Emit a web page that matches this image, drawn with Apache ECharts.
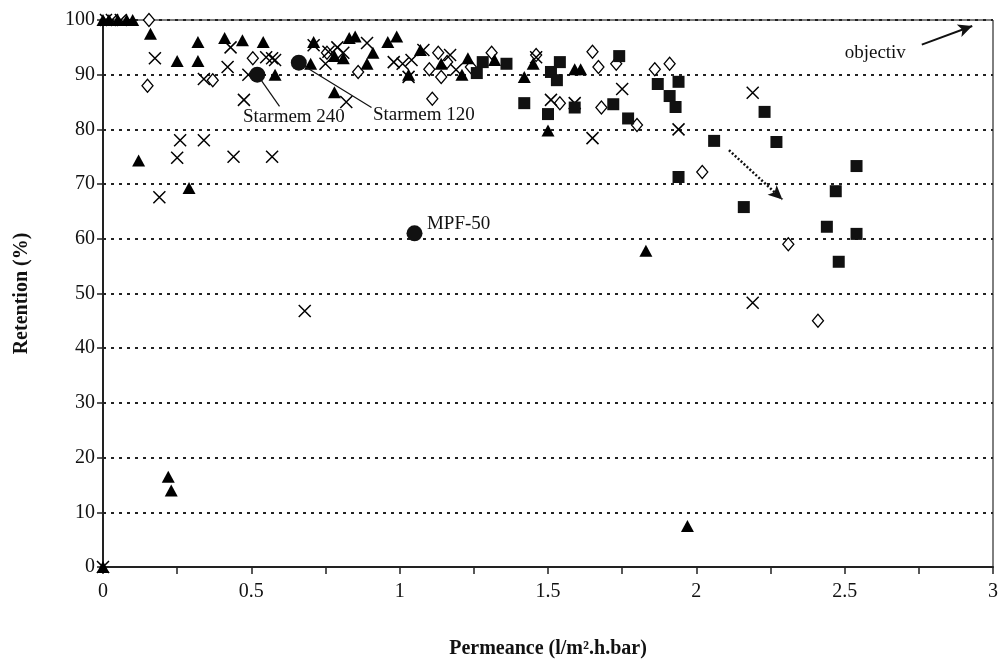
<!DOCTYPE html>
<html><head><meta charset="utf-8">
<script src="https://cdn.jsdelivr.net/npm/echarts@6/dist/echarts.min.js"></script>
<style>html,body{margin:0;padding:0;background:#fff}#c{width:1000px;height:660px}</style>
</head><body><div id="c"></div>
<script>
const xTitle = 'Permeance (l/m².h.bar)';
const yTitle = 'Retention (%)';
const triangles = [[0,100],[0.02,100],[0.05,100],[0.08,100],[0.1,100],
 [0.16,97.5],[0.25,92.5],[0.32,96],[0.32,92.5],[0.41,96.7],[0.47,96.3],[0.54,96],[0.58,90],
 [0.12,74.3],[0.29,69.3],[0.22,16.5],[0.23,14],[0,0],
 [0.71,96],[0.70,92],[0.78,93.4],[0.81,93],[0.83,96.7],[0.85,97],[0.91,94],[0.89,92],[0.96,96],[0.99,97],[0.78,86.8],
 [1.07,94.5],[1.14,92],[1.21,90],[1.23,93],[1.32,92.7],[1.42,89.6],[1.45,92],[1.50,79.8],[1.61,91],[1.59,91],[1.83,57.8],[1.97,7.5],[1.03,90]];
const crosses = [[0.01,100],[0.03,100],[0.06,100],[0,0],
 [0.175,93],[0.19,67.6],[0.26,78],[0.25,74.8],[0.34,78],[0.44,75],[0.57,75],[0.34,89.2],[0.43,95],[0.42,91.4],[0.475,85.4],[0.49,90],[0.57,93],[0.58,92.7],[0.55,93.2],
 [0.68,46.8],[0.71,95.4],[0.76,94.2],[0.79,95],[0.75,92],[0.81,94],[0.89,95.8],[0.82,85],[0.98,92.3],[1.01,92],[1.04,92.7],[1.03,89.6],[1.17,93.6],[1.19,90.9],[1.08,94.5],
 [1.46,93.2],[1.51,85.4],[1.59,84.8],[1.75,87.4],[1.65,78.4],[1.94,80],[2.19,86.7],[2.19,48.3]];
const diamonds = [[0.155,100],[0.15,88],[0.37,89],[0.505,93],[0.755,94],[0.86,90.5],[1.13,94],[1.10,91],[1.14,89.6],[1.16,92.3],[1.24,91.4],[1.31,94],[1.11,85.6],
 [1.46,93.6],[1.54,84.8],[1.65,94.2],[1.67,91.4],[1.73,92],[1.86,91],[1.91,92],[1.68,84],[1.80,80.8],[2.02,72.2],[2.31,59],[2.41,45]];
const squares = [[1.28,92.3],[1.26,90.3],[1.36,92],[1.42,84.8],[1.50,82.8],[1.51,90.5],[1.54,92.3],[1.53,89],[1.59,84],[1.74,93.4],[1.72,84.6],[1.77,82],
 [1.87,88.3],[1.94,88.7],[1.91,86.1],[1.93,84.1],[2.06,77.9],[2.23,83.2],[2.27,77.7],[1.94,71.3],[2.16,65.8],[2.54,73.3],[2.47,68.7],[2.44,62.2],[2.54,60.9],[2.48,55.8]];
const circles = [[0.52,90],[0.66,92.2],[1.05,61]];
const labels = [[0.472,82.3,'Starmem 240'],[0.91,82.7,'Starmem 120'],[1.092,62.7,'MPF-50'],[2.50,94.0,'objectiv']];
const leaderLines = [[[0.52,90],[0.595,84.2]],[[0.66,92.2],[0.905,84]]];
const objectivArrow = [[2.76,95.5],[2.93,98.9]];
const trendArrow = [[2.11,76.2],[2.29,67.2]];

const FONT = 'Liberation Serif';
const chart = echarts.init(document.getElementById('c'), null, {renderer:'canvas'});
const crossPath = 'path://M0,0L10,10M10,0L0,10';
chart.setOption({
  animation:false,
  backgroundColor:'#fff',
  grid:{left:103,right:7,top:20,bottom:93,containLabel:false,outerBoundsMode:'none',show:true,borderColor:'#000',borderWidth:1,backgroundColor:'transparent'},
  xAxis:{type:'value',min:0,max:3,interval:0.5,
    name:xTitle,nameLocation:'middle',nameGap:72,
    nameTextStyle:{fontFamily:FONT,fontWeight:'bold',fontSize:20,color:'#111'},
    axisLine:{show:true,onZero:false,lineStyle:{color:'#222',width:2}},
    axisTick:{show:true,length:7,lineStyle:{color:'#222',width:1.5}},
    minorTick:{show:true,splitNumber:2,length:7,lineStyle:{color:'#222',width:1.5}},
    splitLine:{show:false},
    axisLabel:{fontFamily:FONT,fontSize:20,color:'#111',margin:15,formatter:v=>String(v)}},
  yAxis:{type:'value',min:0,max:100,interval:10,
    name:yTitle,nameLocation:'middle',nameGap:71,
    nameTextStyle:{fontFamily:FONT,fontWeight:'bold',fontSize:20,color:'#111'},
    axisLine:{show:true,onZero:false,lineStyle:{color:'#222',width:2}},
    axisTick:{show:true,length:6,lineStyle:{color:'#222',width:1.5}},
    splitLine:{show:true,lineStyle:{color:'#222',width:2,type:[3,5]}},
    axisLabel:{fontFamily:FONT,fontSize:20,color:'#111',margin:8}},
  series:[
    {type:'scatter',data:diamonds,symbol:'diamond',symbolSize:[11,13],itemStyle:{color:'#fff',borderColor:'#000',borderWidth:1.3,opacity:1},z:2},
    {type:'scatter',data:crosses,symbol:crossPath,symbolSize:12,itemStyle:{color:'none',borderColor:'#000',borderWidth:1.5,opacity:1},z:3},
    {type:'scatter',data:triangles,symbol:'triangle',symbolSize:[13,12],itemStyle:{color:'#000',opacity:1},z:4},
    {type:'scatter',data:squares,symbol:'rect',symbolSize:12,itemStyle:{color:'#111',opacity:1},z:4},
    {type:'scatter',data:circles,symbol:'circle',symbolSize:16,itemStyle:{color:'#111',opacity:1},z:5,
      markLine:{silent:true,symbol:['none','none'],animation:false,label:{show:false},
        lineStyle:{color:'#111',width:1.2,type:'solid'},
        data:leaderLines.map(l=>[{coord:l[0]},{coord:l[1]}])}},
    {type:'scatter',data:[],
      markLine:{silent:true,symbol:['none','arrow'],symbolSize:[10,14],animation:false,label:{show:false},
        data:[
          [{coord:objectivArrow[0],lineStyle:{color:'#111',width:2,type:'solid'}},{coord:objectivArrow[1]}],
          [{coord:trendArrow[0],lineStyle:{color:'#111',width:2.5,type:[2,2]}},{coord:trendArrow[1]}]
        ]}},
    {type:'scatter',data:labels.map(l=>[l[0],l[1],l[2]]),symbolSize:0,z:6,itemStyle:{opacity:1},
      label:{show:true,position:'right',distance:0,formatter:p=>p.data[2],fontFamily:FONT,fontSize:19,color:'#111',opacity:1}}
  ]
});
</script></body></html>
